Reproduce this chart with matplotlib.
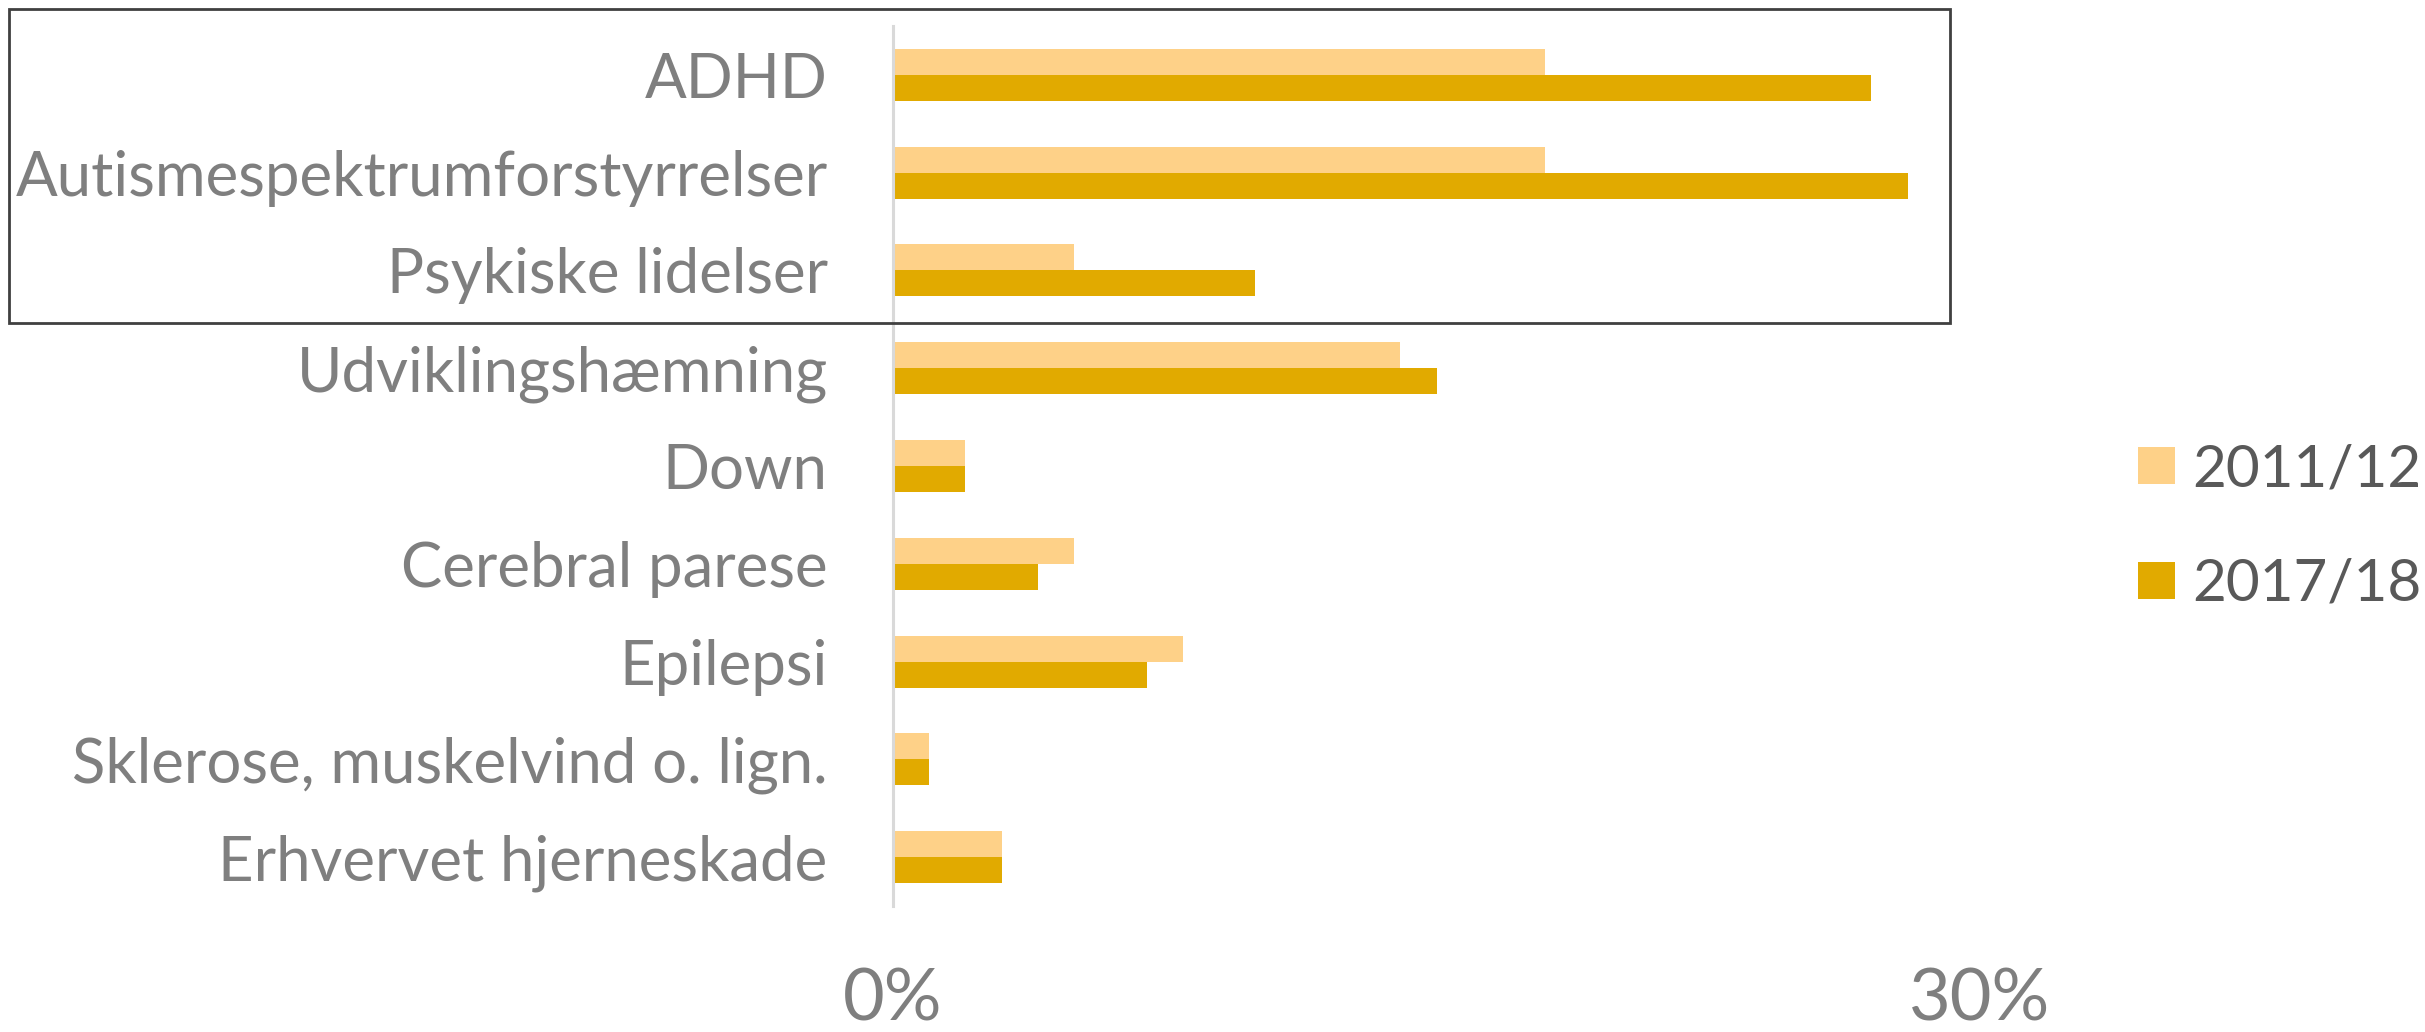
import matplotlib
matplotlib.use("Agg")
import matplotlib.pyplot as plt
from matplotlib.patches import Rectangle
from matplotlib.ticker import PercentFormatter, FixedLocator

plt.rcParams['font.family'] = ['Lato', 'DejaVu Sans']

categories = ["ADHD", "Autismespektrumforstyrrelser", "Psykiske lidelser",
              "Udviklingshæmning", "Down", "Cerebral parese", "Epilepsi",
              "Sklerose, muskelvind o. lign.", "Erhvervet hjerneskade"]
series_names = ["2011/12", "2017/18"]
values_2011 = [0.18, 0.18, 0.05, 0.14, 0.02, 0.05, 0.08, 0.01, 0.03]
values_2017 = [0.27, 0.28, 0.10, 0.15, 0.02, 0.04, 0.07, 0.01, 0.03]
x_ticks = [0.0, 0.30]

W, H = 2425, 1032
fig = plt.figure(figsize=(W / 100, H / 100), dpi=100)
ax = fig.add_axes([893 / W, 1 - 906 / H, (1980 - 893) / W, (906 - 26) / H])

light = "#FED188"
dark = "#E1AA00"
bh = 0.266
ys = list(range(len(categories)))
b1 = ax.barh([y - bh / 2 for y in ys], values_2011, height=bh, color=light,
             label=series_names[0])
b2 = ax.barh([y + bh / 2 for y in ys], values_2017, height=bh, color=dark,
             label=series_names[1])

ax.set_ylim(len(categories) - 0.5, -0.5)
ax.set_xlim(0, 0.30)
ax.set_yticks(ys)
ax.set_yticklabels(categories)
ax.xaxis.set_major_locator(FixedLocator(x_ticks))
ax.xaxis.set_major_formatter(PercentFormatter(1.0, decimals=0))

for s in ["top", "right", "bottom"]:
    ax.spines[s].set_visible(False)
ax.spines["left"].set_color("#D9D9D9")
ax.spines["left"].set_linewidth(2.2)

ax.tick_params(axis="y", length=0, pad=47, labelsize=44.5, labelcolor="#7F7F7F")
ax.tick_params(axis="x", length=0, pad=44, labelsize=52, labelcolor="#7F7F7F")

fig.legend(handles=[b1, b2], labels=series_names, loc="center left",
           bbox_to_anchor=(2138 / W, 1 - 527 / H), frameon=False,
           fontsize=42, handlelength=0.63, handleheight=0.6,
           handletextpad=0.3, labelspacing=1.05, borderpad=0,
           borderaxespad=0, labelcolor="#595959")

fig.patches.append(Rectangle((9 / W, 1 - 323 / H), (1950 - 9) / W, (323 - 9) / H,
                             transform=fig.transFigure, fill=False,
                             edgecolor="#404040", linewidth=2.0))

fig.savefig("out.png", dpi=100)
